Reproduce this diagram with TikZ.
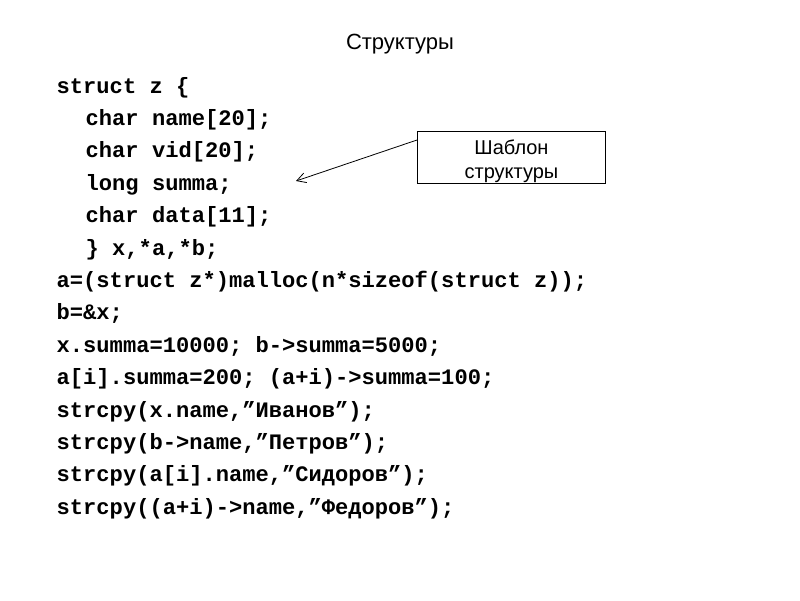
\documentclass[tikz,border=0pt]{standalone}
\usepackage{fontspec}
\setmainfont{Liberation Sans}
\newfontfamily\codefont{Liberation Mono}
\usetikzlibrary{arrows.meta}
\tikzset{
  codeline/.style={anchor=base west, inner sep=0pt, font=\codefont\bfseries\fontsize{22.1}{26}\selectfont},
  titletext/.style={anchor=base, inner sep=0pt, font=\fontsize{22}{26}\selectfont},
  notebox/.style={draw, line width=1pt, minimum width=188pt, minimum height=52pt, align=center, inner sep=0pt, text height=42pt, text depth=0pt, font=\fontsize{20}{24}\selectfont},
  pointer/.style={line width=0.8pt, -{Straight Barb[length=9pt,width=10pt]}}
}
\begin{document}
\begin{tikzpicture}[x=1pt,y=-1pt]
\useasboundingbox (0,0) rectangle (800,600);
\node[titletext] (title) at (400,49.5) {Структуры};
\node[codeline] (l1) at (56.5,93) {struct z \{};
\node[codeline] (l2) at (85.5,125.4) {char name[20];};
\node[codeline] (l3) at (85.5,157.8) {char vid[20];};
\node[codeline] (l4) at (85.5,190.2) {long summa;};
\node[codeline] (l5) at (85.5,222.6) {char data[11];};
\node[codeline] (l6) at (85.5,255) {\} x,*a,*b;};
\node[codeline] (l7) at (56.5,287.4) {a=(struct z*)malloc(n*sizeof(struct z));};
\node[codeline] (l8) at (56.5,319.8) {b=\&x;};
\node[codeline] (l9) at (56.5,352.2) {x.summa=10000; b->summa=5000;};
\node[codeline] (l10) at (56.5,384.6) {a[i].summa=200; (a+i)->summa=100;};
\node[codeline] (l11) at (56.5,417) {strcpy(x.name,”Иванов”);};
\node[codeline] (l12) at (56.5,449.4) {strcpy(b->name,”Петров”);};
\node[codeline] (l13) at (56.5,481.8) {strcpy(a[i].name,”Сидоров”);};
\node[codeline] (l14) at (56.5,514.2) {strcpy((a+i)->name,”Федоров”);};
\node[notebox] (box) at (511.5,157) {Шаблон\\структуры};
\coordinate (tip) at (296,181);
\draw[pointer] (box.west |- 0,140) -- (tip);
\end{tikzpicture}
\end{document}
